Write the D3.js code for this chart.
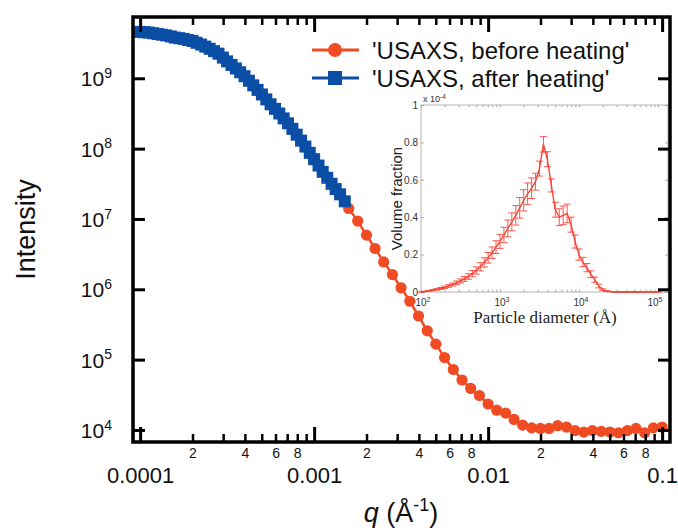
<!DOCTYPE html>
<html>
<head>
<meta charset="utf-8">
<script src="https://cdn.jsdelivr.net/npm/d3@7"></script>
<style>
  body { margin: 0; background: #fff; }
  svg { display: block; }
  text { font-family: "Liberation Sans", Arial, sans-serif; }
</style>
</head>
<body>
<svg id="chart" width="678" height="531"></svg>
<script>
// === Data ===
const seriesNames = ["'USAXS, before heating'", "'USAXS, after heating'"];

// q (1/Å) and intensity, before heating
const qBefore = [1.00e-4, 1.12e-4, 1.26e-4, 1.41e-4, 1.58e-4, 1.78e-4, 2.00e-4, 2.24e-4, 2.51e-4, 2.82e-4,
  3.16e-4, 3.55e-4, 3.98e-4, 4.47e-4, 5.01e-4, 5.62e-4, 6.31e-4, 7.08e-4, 7.94e-4, 8.91e-4,
  1.00e-3, 1.12e-3, 1.26e-3, 1.41e-3, 1.58e-3, 1.78e-3, 2.00e-3, 2.24e-3, 2.51e-3, 2.82e-3,
  3.16e-3, 3.55e-3, 3.98e-3, 4.47e-3, 5.01e-3, 5.62e-3, 6.31e-3, 7.08e-3, 7.94e-3, 8.91e-3,
  1.00e-2, 1.12e-2, 1.26e-2, 1.41e-2, 1.58e-2, 1.78e-2, 2.00e-2, 2.24e-2, 2.51e-2, 2.82e-2,
  3.16e-2, 3.55e-2, 3.98e-2, 4.47e-2, 5.01e-2, 5.62e-2, 6.31e-2, 7.08e-2, 7.94e-2, 8.91e-2, 1.00e-1];
const iBefore = [4.57e9, 4.47e9, 4.27e9, 4.07e9, 3.80e9, 3.63e9, 3.39e9, 3.02e9, 2.63e9, 2.24e9,
  1.74e9, 1.38e9, 1.07e9, 7.94e8, 5.89e8, 4.27e8, 3.16e8, 2.29e8, 1.58e8, 1.07e8,
  7.08e7, 4.68e7, 3.16e7, 2.24e7, 1.41e7, 9.33e6, 5.89e6, 3.80e6, 2.45e6, 1.62e6,
  1.05e6, 6.76e5, 4.17e5, 2.57e5, 1.66e5, 1.07e5, 7.24e4, 5.13e4, 3.89e4, 3.09e4,
  2.34e4, 1.91e4, 1.74e4, 1.41e4, 1.17e4, 1.07e4, 1.05e4, 1.05e4, 1.15e4, 1.10e4,
  9.77e3, 9.33e3, 9.77e3, 9.55e3, 9.33e3, 9.12e3, 9.77e3, 1.05e4, 9.12e3, 1.07e4, 1.10e4];

// after heating (only low q)
const qAfter = [1.00e-4, 1.06e-4, 1.12e-4, 1.19e-4, 1.26e-4, 1.33e-4, 1.41e-4, 1.50e-4, 1.58e-4, 1.68e-4,
  1.78e-4, 1.88e-4, 2.00e-4, 2.11e-4, 2.24e-4, 2.37e-4, 2.51e-4, 2.66e-4, 2.82e-4, 2.99e-4,
  3.16e-4, 3.35e-4, 3.55e-4, 3.76e-4, 3.98e-4, 4.22e-4, 4.47e-4, 4.73e-4, 5.01e-4, 5.31e-4,
  5.62e-4, 5.96e-4, 6.31e-4, 6.68e-4, 7.08e-4, 7.50e-4, 7.94e-4, 8.41e-4, 8.91e-4, 9.44e-4,
  1.00e-3, 1.06e-3, 1.12e-3, 1.19e-3, 1.26e-3, 1.33e-3, 1.41e-3, 1.50e-3];
const iAfter = [4.57e9, 4.52e9, 4.47e9, 4.37e9, 4.27e9, 4.17e9, 4.07e9, 3.94e9, 3.80e9, 3.72e9,
  3.63e9, 3.51e9, 3.39e9, 3.20e9, 3.02e9, 2.82e9, 2.63e9, 2.43e9, 2.24e9, 1.97e9,
  1.74e9, 1.55e9, 1.38e9, 1.22e9, 1.07e9, 9.23e8, 7.94e8, 6.84e8, 5.89e8, 5.01e8,
  4.27e8, 3.67e8, 3.16e8, 2.69e8, 2.29e8, 1.91e8, 1.58e8, 1.30e8, 1.07e8, 8.71e7,
  7.08e7, 5.75e7, 4.68e7, 3.85e7, 3.16e7, 2.66e7, 2.24e7, 1.78e7];

// inset: size distribution (volume fraction in units of 1e-4)
const diam = [100, 112, 126, 141, 158, 178, 200, 224, 251, 282,
  316, 355, 398, 447, 501, 562, 631, 708, 794, 891,
  1000, 1122, 1259, 1413, 1585, 1778, 1995, 2239, 2512, 2818,
  3162, 3548, 3981, 4467, 5012, 5623, 6310, 7079, 7943, 8913,
  10000, 11220, 12589, 14125, 15849, 17783, 19953, 22387, 25119, 28184,
  31623, 35481, 39811, 44668, 50119, 56234, 63096, 70795, 79433, 89125, 100000];
const volFrac = [0.000, 0.003, 0.006, 0.010, 0.014, 0.019, 0.025, 0.032, 0.040, 0.049,
  0.059, 0.070, 0.083, 0.098, 0.115, 0.135, 0.158, 0.183, 0.210, 0.240,
  0.270, 0.305, 0.340, 0.375, 0.410, 0.450, 0.490, 0.525, 0.555, 0.590,
  0.660, 0.790, 0.710, 0.570, 0.440, 0.400, 0.410, 0.420, 0.360, 0.270,
  0.200, 0.160, 0.130, 0.095, 0.066, 0.032, 0.012, 0.005, 0.002, 0.001,
  0, 0, 0, 0, 0, 0, 0, 0, 0, 0, 0];
const volErr = [0.000, 0.001, 0.002, 0.003, 0.004, 0.005, 0.006, 0.007, 0.008, 0.010,
  0.011, 0.013, 0.015, 0.017, 0.019, 0.022, 0.025, 0.028, 0.031, 0.034,
  0.037, 0.041, 0.045, 0.048, 0.052, 0.055, 0.057, 0.058, 0.055, 0.045,
  0.040, 0.042, 0.040, 0.035, 0.040, 0.045, 0.050, 0.050, 0.040, 0.035,
  0.030, 0.025, 0.022, 0.018, 0.014, 0.010, 0.005, 0.002, 0.001, 0.000,
  0, 0, 0, 0, 0, 0, 0, 0, 0, 0, 0];

// tick labels
const xMajor = [1e-4, 1e-3, 1e-2, 1e-1];
const xMajorLabels = ['0.0001', '0.001', '0.01', '0.1'];
const yDecades = [4, 5, 6, 7, 8, 9];
const insetXDecades = [2, 3, 4, 5];
const insetYTicks = [0, 0.2, 0.4, 0.6, 0.8, 1];

const ORANGE = '#f04b23';
const BLUE = '#0b4ea6';
const INSET_RED = '#f5463a';

// === Layout ===
const svg = d3.select('#chart');
const M = { left: 133, right: 670, top: 17, bottom: 442 };

const x = d3.scaleLog().domain([9.1e-5, 0.111]).range([M.left, M.right]);
const y = d3.scaleLog().domain([6.74e3, 7.44e9]).range([M.bottom, M.top]);

// === Main data ===
const before = qBefore.map((q, i) => ({ q, v: iBefore[i] }));
const after = qAfter.map((q, i) => ({ q, v: iAfter[i] }));
const line = d3.line().x(d => x(d.q)).y(d => y(d.v));

svg.append('path').datum(before)
  .attr('d', line).attr('fill', 'none')
  .attr('stroke', ORANGE).attr('stroke-width', 2.5);
svg.append('g').selectAll('circle').data(before).join('circle')
  .attr('cx', d => x(d.q)).attr('cy', d => y(d.v)).attr('r', 5.6)
  .attr('fill', ORANGE);

svg.append('path').datum(after)
  .attr('d', line).attr('fill', 'none')
  .attr('stroke', BLUE).attr('stroke-width', 2.5);
svg.append('g').selectAll('rect').data(after).join('rect')
  .attr('x', d => x(d.q) - 6).attr('y', d => y(d.v) - 6)
  .attr('width', 12).attr('height', 12)
  .attr('fill', BLUE);

// === Inset ===
const IN = { left: 421, right: 668, top: 105, bottom: 292 };
const ix = d3.scaleLog().domain([100, 1.34e5]).range([IN.left, IN.right]);
const iy = d3.scaleLinear().domain([0, 1]).range([IN.bottom, IN.top]);
const inset = svg.append('g');

inset.append('rect')
  .attr('x', IN.left).attr('y', IN.top)
  .attr('width', IN.right - IN.left).attr('height', IN.bottom - IN.top)
  .attr('fill', '#fff').attr('stroke', '#b4b4b4').attr('stroke-width', 1);

const insetMinor = [];
for (const e of [2, 3, 4]) for (let k = 2; k <= 9; k++) insetMinor.push(k * 10 ** e);
const insetXTickVals = insetMinor.concat(insetXDecades.map(e => 10 ** e));

function styleInsetAxis(g) {
  g.select('.domain').remove();
  g.selectAll('line').attr('stroke', '#9a9a9a').attr('stroke-width', 0.8);
}
inset.append('g').attr('transform', `translate(0,${IN.bottom})`)
  .call(d3.axisBottom(ix).tickValues(insetXTickVals).tickSize(-2.5).tickFormat(''))
  .call(styleInsetAxis);
inset.append('g').attr('transform', `translate(0,${IN.top})`)
  .call(d3.axisTop(ix).tickValues(insetXTickVals).tickSize(-2.5).tickFormat(''))
  .call(styleInsetAxis);
inset.append('g').attr('transform', `translate(${IN.left},0)`)
  .call(d3.axisLeft(iy).tickValues(insetYTicks).tickSize(-3).tickPadding(3).tickFormat(d3.format('~g')))
  .call(styleInsetAxis)
  .call(g => g.selectAll('text').attr('font-size', 10).attr('fill', '#333')
    .attr('font-family', '"Liberation Sans", Arial, sans-serif'));
inset.append('g').attr('transform', `translate(${IN.right},0)`)
  .call(d3.axisRight(iy).tickValues(insetYTicks).tickSize(-3).tickFormat(''))
  .call(styleInsetAxis);

// inset x labels 10^n (last one nudged left so the frame does not hide it)
insetXDecades.forEach(e => {
  const t = inset.append('text')
    .attr('x', ix(10 ** e) + (e === 5 ? -3 : 2)).attr('y', IN.bottom + 14)
    .attr('text-anchor', 'middle').attr('font-size', 10).attr('fill', '#333')
    .text('10');
  t.append('tspan').attr('dy', '-0.55em').attr('font-size', 7).text(e);
});
// x 10^-4 multiplier
const mult = inset.append('text')
  .attr('x', IN.left + 2).attr('y', IN.top - 3)
  .attr('font-size', 9).attr('fill', '#333').text('x 10');
mult.append('tspan').attr('dy', '-0.5em').attr('font-size', 6.5).text('-4');

// error bars + line
const dist = diam.map((d, i) => ({ d, v: volFrac[i], e: volErr[i] }));
inset.append('g').selectAll('g').data(dist).join('g')
  .each(function (p) {
    const g = d3.select(this);
    const cx = ix(p.d), y0 = iy(p.v - p.e), y1 = iy(p.v + p.e);
    g.append('line').attr('x1', cx).attr('x2', cx).attr('y1', y0).attr('y2', y1);
    g.append('line').attr('x1', cx - 3.5).attr('x2', cx + 3.5).attr('y1', y0).attr('y2', y0);
    g.append('line').attr('x1', cx - 3.5).attr('x2', cx + 3.5).attr('y1', y1).attr('y2', y1);
  })
  .attr('stroke', INSET_RED).attr('stroke-width', 0.9);
inset.append('path').datum(dist)
  .attr('d', d3.line().x(p => ix(p.d)).y(p => iy(p.v)))
  .attr('fill', 'none').attr('stroke', INSET_RED).attr('stroke-width', 1.4);

inset.append('text')
  .attr('transform', `translate(402,${(IN.top + IN.bottom) / 2}) rotate(-90)`)
  .attr('text-anchor', 'middle').attr('font-size', 15).attr('fill', '#222')
  .text('Volume fraction');
inset.append('text')
  .attr('x', 545).attr('y', 323)
  .attr('text-anchor', 'middle').attr('font-size', 17).attr('fill', '#222')
  .style('font-family', '"Liberation Serif", "Times New Roman", serif')
  .text('Particle diameter (Å)');

// === Legend ===
const legend = svg.append('g');
[0, 1].forEach(i => {
  const ly = 50 + i * 28;
  const col = i === 0 ? ORANGE : BLUE;
  legend.append('line').attr('x1', 312).attr('x2', 359).attr('y1', ly).attr('y2', ly)
    .attr('stroke', col).attr('stroke-width', 3);
  if (i === 0) {
    legend.append('circle').attr('cx', 335).attr('cy', ly).attr('r', 7).attr('fill', col);
  } else {
    legend.append('rect').attr('x', 328).attr('y', ly - 7).attr('width', 14).attr('height', 14).attr('fill', col);
  }
  legend.append('text').attr('x', 372).attr('y', ly + 8.5)
    .attr('font-size', 24).attr('fill', '#111').text(seriesNames[i]);
});

// === Axes and frame ===
const xMinor = [];
for (const e of [-4, -3, -2]) for (let k = 2; k <= 9; k++) xMinor.push(k * 10 ** e);
const minorLabel = d => {
  const m = Math.round(d / 10 ** Math.floor(Math.log10(d) + 1e-9));
  return [2, 4, 6, 8].includes(m) ? String(m) : '';
};
function styleAxis(g, w) {
  g.select('.domain').remove();
  g.selectAll('line').attr('stroke', '#000').attr('stroke-width', w);
  g.selectAll('text').attr('fill', '#111').attr('font-family', '"Liberation Sans", Arial, sans-serif');
}

// bottom
svg.append('g').attr('transform', `translate(0,${M.bottom})`)
  .call(d3.axisBottom(x).tickValues(xMinor).tickSize(-8).tickPadding(6).tickFormat(minorLabel))
  .call(g => styleAxis(g, 2.5))
  .call(g => g.selectAll('text').attr('font-size', 14));
svg.append('g').attr('transform', `translate(0,${M.bottom})`)
  .call(d3.axisBottom(x).tickValues(xMajor).tickSize(-15).tickPadding(25)
    .tickFormat((d, i) => xMajorLabels[i]))
  .call(g => styleAxis(g, 3))
  .call(g => g.selectAll('text').attr('font-size', 22));
// top
svg.append('g').attr('transform', `translate(0,${M.top})`)
  .call(d3.axisTop(x).tickValues(xMinor).tickSize(-8).tickFormat(''))
  .call(g => styleAxis(g, 2.5));
svg.append('g').attr('transform', `translate(0,${M.top})`)
  .call(d3.axisTop(x).tickValues(xMajor).tickSize(-15).tickFormat(''))
  .call(g => styleAxis(g, 3));
// left
const yVals = yDecades.map(e => 10 ** e);
svg.append('g').attr('transform', `translate(${M.left},0)`)
  .call(d3.axisLeft(y).tickValues(yVals).tickSize(-12).tickFormat(''))
  .call(g => styleAxis(g, 3));
yDecades.forEach(e => {
  const t = svg.append('text')
    .attr('x', 112).attr('y', y(10 ** e) + 8)
    .attr('text-anchor', 'end').attr('font-size', 21).attr('fill', '#111')
    .text('10');
  t.append('tspan').attr('dy', '-0.6em').attr('font-size', 14).text(e);
});
// right
svg.append('g').attr('transform', `translate(${M.right},0)`)
  .call(d3.axisRight(y).tickValues(yVals).tickSize(-12).tickFormat(''))
  .call(g => styleAxis(g, 3));

svg.append('rect')
  .attr('x', M.left).attr('y', M.top)
  .attr('width', M.right - M.left).attr('height', M.bottom - M.top)
  .attr('fill', 'none').attr('stroke', '#000').attr('stroke-width', 3.5);

// axis titles
svg.append('text')
  .attr('transform', `translate(35,${(M.top + M.bottom) / 2}) rotate(-90)`)
  .attr('text-anchor', 'middle').attr('font-size', 27).attr('fill', '#111')
  .text('Intensity');
const xt = svg.append('text')
  .attr('x', 401).attr('y', 522)
  .attr('text-anchor', 'middle').attr('font-size', 27).attr('fill', '#111');
xt.append('tspan').attr('font-style', 'italic').text('q');
xt.append('tspan').text(' (Å');
xt.append('tspan').attr('dy', '-0.6em').attr('font-size', 18).text('-1');
xt.append('tspan').attr('dy', '0.4em').text(')');
</script>
</body>
</html>
